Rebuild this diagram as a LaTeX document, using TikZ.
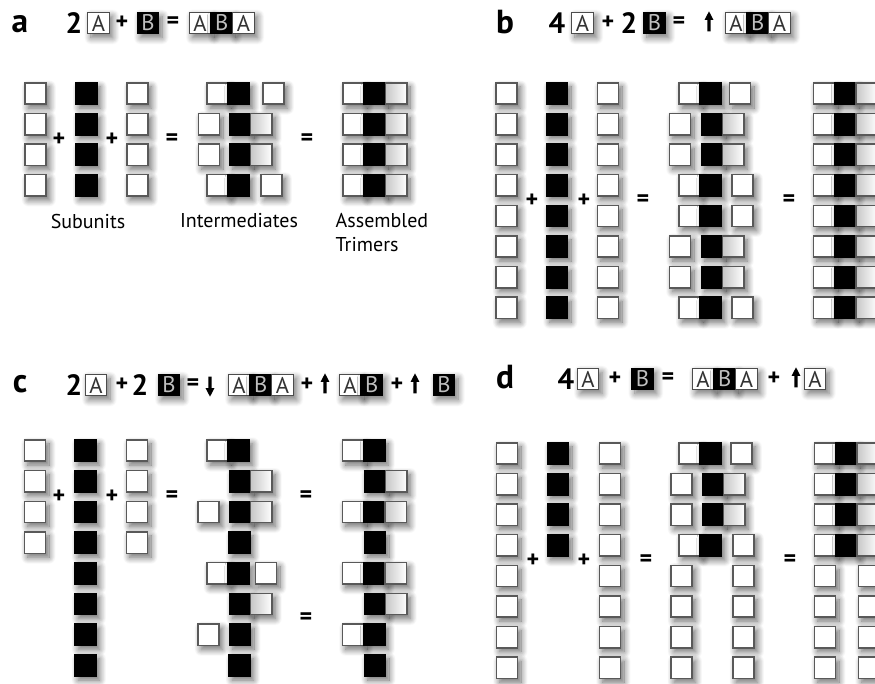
\documentclass[tikz,border=0pt]{standalone}
\usepackage{fontspec}
\setmainfont{PT Sans}
\usetikzlibrary{positioning,shadows.blur,shapes.arrows}

\begin{document}
\begin{tikzpicture}[x=0.75pt, y=-0.75pt,
    cell/.style={minimum size=16pt, inner sep=0pt, outer sep=0pt, line width=1.1pt,
        blur shadow={shadow xshift=2.5pt, shadow yshift=-3pt, shadow blur radius=5pt, shadow opacity=60, shadow blur steps=12}},
    suba/.style={cell, draw=black!65, fill=white},
    subb/.style={cell, draw=black, fill=black},
    subr/.style={cell, draw=black!65, left color=black!22, right color=white},
    hbox/.style={minimum size=16.3pt, inner sep=0pt, outer sep=0pt, line width=0.8pt,
        font=\fontsize{17}{17}\selectfont,
        blur shadow={shadow xshift=2.5pt, shadow yshift=-3pt, shadow blur radius=5pt, shadow opacity=55, shadow blur steps=12}},
    hboxa/.style={hbox, draw=black!70, fill=white, text=black!80},
    hboxb/.style={hbox, draw=black, fill=black, text=black!25},
    panel/.style={font=\fontsize{25}{25}\selectfont\bfseries, anchor=base},
    count/.style={font=\fontsize{22}{22}\selectfont\bfseries},
    op/.style={font=\fontsize{18}{18}\selectfont\bfseries},
    caption/.style={font=\fontsize{15}{18}\selectfont},
    uparr/.style={single arrow, fill=black, inner sep=1.1pt, minimum height=15pt, minimum width=6pt,
        single arrow head extend=2pt, single arrow tip angle=55, shape border rotate=90},
    dnarr/.style={uparr, shape border rotate=270}
]
    \useasboundingbox (0,0) rectangle (875,683);
    \clip (0,0) rectangle (875,683);

    % ---------- panel a ----------
    \node[panel] (alab) at (20,32) {a};
    \node[count] (an1) at (74,23) {2};
    \node[hboxa] (ahA) at (98.5,23) {A};
    \node[op] (ahp) at (122,23) {+};
    \node[hboxb] (ahB) at (148,23) {B};
    \node[op] (ahe) at (173,23) {=};
    \node[hboxa] (ahT1) at (200,23) {A};
    \node[hboxb, right=0pt of ahT1] (ahT2) {B};
    \node[hboxa, right=0pt of ahT2] (ahT3) {A};

    % subunits
    \foreach \i [evaluate=\i as \y using 93.5+30.6*(\i-1)] in {1,...,4} {
        \node[suba] (aA\i) at (35.5,\y) {};
        \node[subb] (aB\i) at (86.5,\y) {};
        \node[suba] (aC\i) at (137.5,\y) {};
    }
    \node[op] (ap1) at (59,140) {+};
    \node[op] (ap2) at (112,140) {+};
    \node[op] (ae1) at (172,140) {=};

    % intermediates
    \node[suba] (ai1a) at (217.5,93.5) {};
    \node[subb, right=0pt of ai1a] (ai1b) {};
    \node[suba] (ai1c) at (273.5,93.5) {};
    \node[suba] (ai2a) at (209,124.1) {};
    \node[subb] (ai2b) at (240,124.1) {};
    \node[subr, right=0pt of ai2b] (ai2c) {};
    \node[suba] (ai3a) at (209,154.7) {};
    \node[subb] (ai3b) at (240,154.7) {};
    \node[subr, right=0pt of ai3b] (ai3c) {};
    \node[suba] (ai4a) at (217.5,185.3) {};
    \node[subb, right=0pt of ai4a] (ai4b) {};
    \node[suba] (ai4c) at (271.5,185.3) {};
    \node[op] (ae2) at (307,140) {=};

    % trimers
    \foreach \i [evaluate=\i as \y using 93.5+30.6*(\i-1)] in {1,...,4} {
        \node[suba] (at\i a) at (353.5,\y) {};
        \node[subb, right=0pt of at\i a] (at\i b) {};
        \node[subr, right=0pt of at\i b] (at\i c) {};
    }

    \node[caption] (asub) at (88,221) {Subunits};
    \node[caption] (aint) at (239,221) {Intermediates};
    \node[caption, anchor=west, align=left] (atri) at (331,233) {Assembled\\Trimers};

    % ---------- panel b ----------
    \node[panel] (blab) at (505,33) {b};
    \node[count] (bn1) at (557,23) {4};
    \node[hboxa] (bhA) at (582.5,23) {A};
    \node[op] (bhp) at (608,23) {+};
    \node[count] (bn2) at (629,23) {2};
    \node[hboxb] (bhB) at (654.5,23) {B};
    \node[op] (bhe) at (679,23) {=};
    \node[uparr] (bup) at (709,23) {};
    \node[hboxa] (bhT1) at (736,23) {A};
    \node[hboxb, right=0pt of bhT1] (bhT2) {B};
    \node[hboxa, right=0pt of bhT2] (bhT3) {A};

    \foreach \i [evaluate=\i as \y using 93.5+30.6*(\i-1)] in {1,...,8} {
        \node[suba] (bA\i) at (506.5,\y) {};
        \node[subb] (bB\i) at (557,\y) {};
        \node[suba] (bC\i) at (608,\y) {};
    }
    \node[op] (bp1) at (532,201) {+};
    \node[op] (bp2) at (584,201) {+};
    \node[op] (be1) at (643,201) {=};

    % intermediates
    \node[suba] (bi1a) at (689.5,93.5) {};
    \node[subb, right=0pt of bi1a] (bi1b) {};
    \node[suba] (bi1c) at (740,93.5) {};
    \node[suba] (bi2a) at (680,124.1) {};
    \node[subb] (bi2b) at (712,124.1) {};
    \node[subr, right=0pt of bi2b] (bi2c) {};
    \node[suba] (bi3a) at (680,154.7) {};
    \node[subb] (bi3b) at (712,154.7) {};
    \node[subr, right=0pt of bi3b] (bi3c) {};
    \node[suba] (bi4a) at (689.5,185.3) {};
    \node[subb, right=0pt of bi4a] (bi4b) {};
    \node[suba] (bi4c) at (742.5,185.3) {};
    \node[suba] (bi5a) at (689.5,215.9) {};
    \node[subb, right=0pt of bi5a] (bi5b) {};
    \node[suba] (bi5c) at (742.5,215.9) {};
    \node[suba] (bi6a) at (680,246.5) {};
    \node[subb] (bi6b) at (712,246.5) {};
    \node[subr, right=0pt of bi6b] (bi6c) {};
    \node[suba] (bi7a) at (680,277.1) {};
    \node[subb] (bi7b) at (712,277.1) {};
    \node[subr, right=0pt of bi7b] (bi7c) {};
    \node[suba] (bi8a) at (689.5,307.7) {};
    \node[subb, right=0pt of bi8a] (bi8b) {};
    \node[suba] (bi8c) at (742.5,307.7) {};
    \node[op] (be2) at (789,201) {=};

    \foreach \i [evaluate=\i as \y using 93.5+30.6*(\i-1)] in {1,...,8} {
        \node[suba] (bt\i a) at (824,\y) {};
        \node[subb, right=0pt of bt\i a] (bt\i b) {};
        \node[subr, right=0pt of bt\i b] (bt\i c) {};
    }

    % ---------- panel c ----------
    \node[panel] (clab) at (20,392) {c};
    \node[count] (cn1) at (74,385) {2};
    \node[hboxa] (chA) at (96,385) {A};
    \node[op] (chp1) at (122,385) {+};
    \node[count] (cn2) at (140,385) {2};
    \node[hboxb] (chB) at (169,385) {B};
    \node[op] (che) at (193,385) {=};
    \node[dnarr] (cdn) at (210,385) {};
    \node[hboxa] (chT1) at (239,385) {A};
    \node[hboxb, right=0pt of chT1] (chT2) {B};
    \node[hboxa, right=0pt of chT2] (chT3) {A};
    \node[op] (chp2) at (307,385) {+};
    \node[uparr] (cup1) at (325,385) {};
    \node[hboxa] (chD1) at (350,385) {A};
    \node[hboxb, right=0pt of chD1] (chD2) {B};
    \node[op] (chp3) at (397,385) {+};
    \node[uparr] (cup2) at (415,385) {};
    \node[hboxb] (chM) at (444,385) {B};

    \foreach \i [evaluate=\i as \y using 450.5+30.7*(\i-1)] in {1,...,4} {
        \node[suba] (cA\i) at (35,\y) {};
        \node[suba] (cC\i) at (137,\y) {};
    }
    \foreach \i [evaluate=\i as \y using 450.5+30.7*(\i-1)] in {1,...,8} {
        \node[subb] (cB\i) at (85.5,\y) {};
    }
    \node[op] (cp1) at (59,497) {+};
    \node[op] (cp2) at (112,497) {+};
    \node[op] (ce1) at (172,497) {=};

    % intermediates
    \node[suba] (ci1a) at (217.5,450.5) {};
    \node[subb, right=0pt of ci1a] (ci1b) {};
    \node[subb] (ci2b) at (240,481.2) {};
    \node[subr, right=0pt of ci2b] (ci2c) {};
    \node[suba] (ci3a) at (208.5,511.9) {};
    \node[subb] (ci3b) at (240,511.9) {};
    \node[subr, right=0pt of ci3b] (ci3c) {};
    \node[subb] (ci4b) at (239.5,542.6) {};
    \node[suba] (ci5a) at (217.5,573.3) {};
    \node[subb, right=0pt of ci5a] (ci5b) {};
    \node[suba] (ci5c) at (266,573.3) {};
    \node[subb] (ci6b) at (240,604) {};
    \node[subr, right=0pt of ci6b] (ci6c) {};
    \node[suba] (ci7a) at (208.5,634.7) {};
    \node[subb] (ci7b) at (240,634.7) {};
    \node[subb] (ci8b) at (239.5,665.4) {};
    \node[op] (ce2) at (306,497) {=};
    \node[op] (ce3) at (306,619) {=};

    % products
    \node[suba] (ct1a) at (353,450.5) {};
    \node[subb, right=0pt of ct1a] (ct1b) {};
    \node[subb] (ct2b) at (375,481.2) {};
    \node[subr, right=0pt of ct2b] (ct2c) {};
    \node[suba] (ct3a) at (353,511.9) {};
    \node[subb, right=0pt of ct3a] (ct3b) {};
    \node[subr, right=0pt of ct3b] (ct3c) {};
    \node[subb] (ct4b) at (375,542.6) {};
    \node[suba] (ct5a) at (353,573.3) {};
    \node[subb, right=0pt of ct5a] (ct5b) {};
    \node[subr, right=0pt of ct5b] (ct5c) {};
    \node[subb] (ct6b) at (375,604) {};
    \node[subr, right=0pt of ct6b] (ct6c) {};
    \node[suba] (ct7a) at (353,634.7) {};
    \node[subb, right=0pt of ct7a] (ct7b) {};
    \node[subb] (ct8b) at (375,665.4) {};

    % ---------- panel d ----------
    \node[panel] (dlab) at (505,388) {d};
    \node[count] (dn1) at (566,379) {4};
    \node[hboxa] (dhA) at (588,379) {A};
    \node[op] (dhp1) at (615,379) {+};
    \node[hboxb] (dhB) at (642.5,379) {B};
    \node[op] (dhe) at (668,379) {=};
    \node[hboxa] (dhT1) at (703,379) {A};
    \node[hboxb, right=0pt of dhT1] (dhT2) {B};
    \node[hboxa, right=0pt of dhT2] (dhT3) {A};
    \node[op] (dhp2) at (774,379) {+};
    \node[uparr] (dup) at (796,379) {};
    \node[hboxa] (dhM) at (815,379) {A};

    \foreach \i [evaluate=\i as \y using 453.5+30.6*(\i-1)] in {1,...,8} {
        \node[suba] (dA\i) at (507,\y) {};
        \node[suba] (dC\i) at (610,\y) {};
    }
    \foreach \i [evaluate=\i as \y using 453.5+30.6*(\i-1)] in {1,...,4} {
        \node[subb] (dB\i) at (558,\y) {};
    }
    \node[op] (dp1) at (533,561) {+};
    \node[op] (dp2) at (584,561) {+};
    \node[op] (de1) at (646,561) {=};

    % intermediates
    \node[suba] (di1a) at (689.5,453.5) {};
    \node[subb, right=0pt of di1a] (di1b) {};
    \node[suba] (di1c) at (741.5,453.5) {};
    \node[suba] (di2a) at (681.5,484.1) {};
    \node[subb] (di2b) at (713,484.1) {};
    \node[subr, right=0pt of di2b] (di2c) {};
    \node[suba] (di3a) at (681.5,514.7) {};
    \node[subb] (di3b) at (713,514.7) {};
    \node[subr, right=0pt of di3b] (di3c) {};
    \node[suba] (di4a) at (689.5,545.3) {};
    \node[subb, right=0pt of di4a] (di4b) {};
    \node[suba] (di4c) at (743.5,545.3) {};
    \foreach \i [evaluate=\i as \y using 453.5+30.6*(\i-1)] in {5,...,8} {
        \node[suba] (di\i a) at (681.5,\y) {};
        \node[suba] (di\i c) at (743.5,\y) {};
    }
    \node[op] (de2) at (790,561) {=};

    % trimers and left-over subunits
    \foreach \i [evaluate=\i as \y using 453.5+30.6*(\i-1)] in {1,...,4} {
        \node[suba] (dt\i a) at (825,\y) {};
        \node[subb, right=0pt of dt\i a] (dt\i b) {};
        \node[subr, right=0pt of dt\i b] (dt\i c) {};
    }
    \foreach \i [evaluate=\i as \y using 453.5+30.6*(\i-1)] in {5,...,8} {
        \node[suba] (dt\i a) at (825,\y) {};
        \node[suba] (dt\i c) at (869,\y) {};
    }
\end{tikzpicture}
\end{document}
